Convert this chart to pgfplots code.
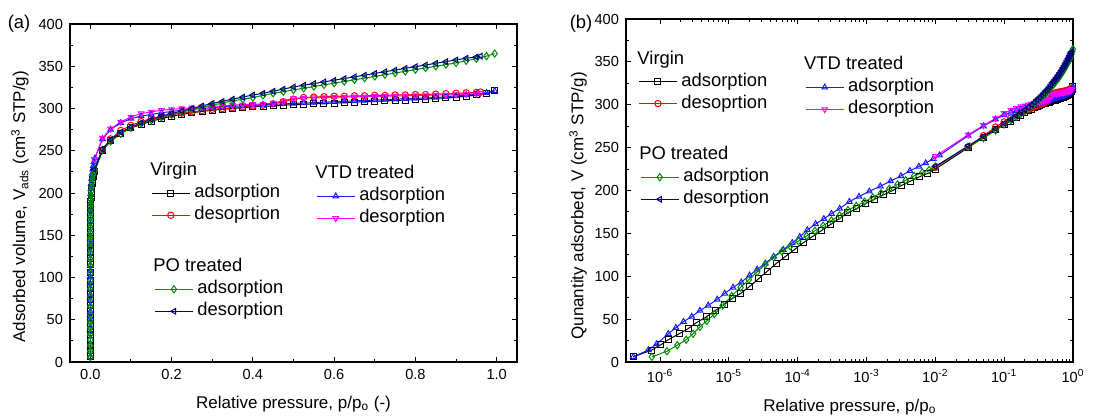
\documentclass[border=0pt]{standalone}
\usepackage{fontspec}
\setmainfont{Liberation Sans}
\usepackage{pgfplots}
\usepackage{pgfplotstable}
\pgfplotsset{compat=1.18}

\definecolor{pogreen}{RGB}{0,140,0}
\definecolor{ponavy}{RGB}{0,0,128}
\definecolor{vtdblue}{RGB}{25,25,255}
\definecolor{vtdmag}{RGB}{255,0,255}

\newcommand\tickfont{\fontsize{7.3}{8}\selectfont}
\newcommand\labfont{\fontsize{8.5}{10}\selectfont}
\newcommand\legfont{\fontsize{9.2}{11}\selectfont}

% Virgin, adsorption
\pgfplotstableread{
p V
4.07e-7 6
7.59e-7 14
1.023e-6 20
1.318e-6 26
1.905e-6 33
2.570e-6 39
3.390e-6 46
4.680e-6 52.5
6.310e-6 60
8.510e-6 67
1.122e-5 74
1.479e-5 80
1.995e-5 88
2.692e-5 97
3.631e-5 106
4.898e-5 115
6.607e-5 123
8.913e-5 131
1.202e-4 139
1.622e-4 146
2.188e-4 153
2.951e-4 160
3.981e-4 167
5.370e-4 174
7.244e-4 179
9.772e-4 185
1.318e-3 190
1.778e-3 195
2.399e-3 200
3.236e-3 206
4.365e-3 211
5.888e-3 216
7.762e-3 220
1.000e-2 225
0.030 250
0.050 262
0.075 271
0.100 277
0.125 281
0.150 285
0.175 288
0.200 291
0.225 293
0.250 295
0.275 296.5
0.300 298
0.325 299
0.350 300
0.375 301
0.400 302
0.425 302.5
0.450 303
0.475 304
0.500 304.5
0.525 305
0.550 305.5
0.575 306
0.600 306.5
0.625 307
0.650 307.5
0.675 308
0.700 308.5
0.725 309
0.750 309.5
0.775 310
0.800 310.5
0.825 311
0.850 312
0.875 312.5
0.900 313.5
0.925 314.5
0.950 316
0.975 318
0.995 321
}\virginads

% Virgin, desorption
\pgfplotstableread{
p V
0.960 319.5
0.950 319
0.925 318.5
0.900 318
0.875 317.5
0.850 317
0.825 316.5
0.800 316.5
0.775 316
0.750 316
0.725 315.5
0.700 315.5
0.675 315
0.650 315
0.625 314.5
0.600 314.5
0.575 314
0.550 313.5
0.525 313
0.500 311
0.475 308
0.450 305.5
0.425 304
0.400 303
0.375 302
0.350 301
0.325 300
0.300 299
0.275 297.5
0.250 296
0.225 294.5
0.200 293
0.175 290.5
0.150 288
0.125 284.5
0.100 280
0.075 274
0.050 264
0.030 251
0.010 227
}\virgindes

% VTD treated, adsorption
\pgfplotstableread{
p V
4.07e-7 6
6.76e-7 14
8.91e-7 21
1.318e-6 33
1.698e-6 40
2.188e-6 47
2.884e-6 53
3.802e-6 60
5.012e-6 66
6.761e-6 73
8.710e-6 80
1.148e-5 87
1.514e-5 93
1.995e-5 101
2.570e-5 108
3.388e-5 115
4.467e-5 123
6.166e-5 131
8.318e-5 139
1.072e-4 146
1.380e-4 154
1.820e-4 161
2.399e-4 167
3.090e-4 173
4.074e-4 179
5.623e-4 187
7.762e-4 193
1.096e-3 199
1.585e-3 205
2.239e-3 211
3.162e-3 217
4.266e-3 223
5.754e-3 228
7.244e-3 232
9.333e-3 237
1.148e-2 241
0.030 264
0.050 275
0.075 283
0.100 288
0.125 291
0.150 293
0.175 295
0.200 296.5
0.225 298
0.250 299
0.275 300
0.300 301
0.325 302
0.350 302.5
0.375 303
0.400 304
0.425 304.5
0.450 305
0.475 305.5
0.500 306
0.525 306.5
0.550 307
0.575 307.5
0.600 308
0.625 308.5
0.650 309
0.675 309.5
0.700 310
0.725 310.5
0.750 311
0.775 311.5
0.800 312
0.825 312.5
0.850 313
0.875 314
0.900 315
0.925 316
0.950 317
0.975 318.5
0.995 321
}\vtdads

% VTD treated, desorption
\pgfplotstableread{
p V
0.960 318
0.950 317.5
0.925 317
0.900 316.5
0.875 316
0.850 316
0.825 315.5
0.800 315.5
0.775 315
0.750 315
0.725 314.5
0.700 314.5
0.675 314
0.650 314
0.625 313.5
0.600 313.5
0.575 313
0.550 313
0.525 312.5
0.500 312
0.475 309
0.450 306.5
0.425 305.5
0.400 305
0.375 304.5
0.350 304
0.325 303
0.300 302.5
0.275 302
0.250 301
0.225 300
0.200 299
0.175 298
0.150 296
0.125 294
0.100 290
0.075 284
0.050 276
0.030 265
0.010 240
}\vtddes

% PO treated, adsorption
\pgfplotstableread{
p V
7.59e-7 6
1.259e-6 12.5
1.778e-6 19.5
2.399e-6 26
3.020e-6 33
3.802e-6 41
4.786e-6 48
6.166e-6 56
8.128e-6 66
1.096e-5 77
1.479e-5 87
1.950e-5 96
2.570e-5 105
3.388e-5 114
4.467e-5 122
5.888e-5 129
7.762e-5 135
1.023e-4 141
1.349e-4 147
1.778e-4 153
2.344e-4 159
3.090e-4 165
4.074e-4 171
5.370e-4 177
7.079e-4 182
9.333e-4 187
1.230e-3 192
1.622e-3 197
2.138e-3 202
2.818e-3 207
3.715e-3 212
4.898e-3 217
6.457e-3 221
8.128e-3 224
1.000e-2 228
0.030 251
0.050 261
0.075 270
0.100 277
0.125 282
0.150 286
0.175 289.5
0.200 292.5
0.225 295.5
0.250 298.5
0.275 301.5
0.300 304
0.325 306.5
0.350 309
0.375 311
0.400 313
0.425 315.5
0.450 318
0.475 320
0.500 322
0.525 324
0.550 326
0.575 328
0.600 330
0.625 332
0.650 334
0.675 336
0.700 338
0.725 340
0.750 342
0.775 344
0.800 346
0.825 348
0.850 350
0.875 352
0.900 354
0.925 356.5
0.950 359
0.975 362
0.995 365
}\poads

% PO treated, desorption
\pgfplotstableread{
p V
0.960 362
0.950 361
0.925 359.5
0.900 357.5
0.875 355.5
0.850 353.5
0.825 351.5
0.800 349.5
0.775 347.5
0.750 345.5
0.725 343.5
0.700 341.5
0.675 339.5
0.650 337.5
0.625 335.5
0.600 333.5
0.575 331.5
0.550 329.5
0.525 327.5
0.500 325.5
0.475 323
0.450 320.5
0.425 318
0.400 316
0.375 313.5
0.350 311
0.325 308.5
0.300 306
0.275 303
0.250 300
0.225 297
0.200 294
0.175 291
0.150 287
0.125 283
0.100 278
0.075 272
0.050 263
0.030 252
0.010 228
}\podes

\pgfplotsset{
  frame/.style={scale only axis, width=223.5pt,
    tick align=inside, major tick length=2.5pt, minor tick length=1.5pt,
    axis line style={line width=0.65pt}, every tick/.style={black, line width=0.5pt},
    tick label style={font=\tickfont}, label style={font=\labfont},
    ymin=0, ymax=400, ytick={0,50,...,400}, minor y tick num=1,
    /pgf/number format/assume math mode=true},
  ser/.style={line width=0.5pt, mark size=1.6pt},
  va/.style={ser, black, mark=square, mark size=1.5pt, mark options={solid, fill=white}},
  vd/.style={ser, red, mark=o, mark options={solid, fill=white}},
  ta/.style={ser, vtdblue, mark=triangle, mark options={solid, fill=white}},
  td/.style={ser, vtdmag, mark=triangle, mark options={solid, fill=white, rotate=180}},
  pa/.style={ser, pogreen, mark=diamond, mark size=1.8pt, mark options={solid, fill=white}},
  pd/.style={ser, ponavy, mark=triangle, mark options={solid, fill=white, rotate=90}},
  legax/.style={hide axis, scale only axis, width=223.5pt, xmin=0, xmax=1, ymin=0, ymax=1,
    legend cell align=left,
    legend image code/.code={\draw[mark repeat=2, mark phase=2, ##1]
      plot coordinates {(0pt,0pt) (9.5pt,0pt) (19pt,0pt)};},
    legend style={draw=none, fill=none, inner sep=0pt, font=\legfont,
      column sep=1pt, row sep=0pt,
      nodes={inner sep=1pt, text height=6.8pt, text depth=2.2pt}}},
}

\begin{document}
\begin{tikzpicture}
\path[use as bounding box] (0,0) rectangle (551pt,-208.5pt);

% ---- (a) linear pressure scale
\begin{axis}[frame, name=a, at={(35pt,-181pt)}, anchor=south west, height=169pt,
    xmin=-0.05, xmax=1.05, xtick={0,0.2,0.4,0.6,0.8,1.0}, minor x tick num=1,
    xticklabel style={/pgf/number format/.cd, fixed, fixed zerofill, precision=1},
    xlabel={Relative pressure, p/p\textsubscript{o} (-)},
    xlabel style={at={(axis description cs:0.5,-0.139)}, anchor=base},
    ylabel={Adsorbed volume, V\textsubscript{ads} (cm\textsuperscript{3} STP/g)},
    ylabel style={at={(axis description cs:-0.112,0.459)}, anchor=center}]
\addplot[va] table {\virginads};
\addplot[vd] table {\virgindes};
\addplot[ta] table {\vtdads};
\addplot[td] table {\vtddes};
\addplot[pa] table {\poads};
\addplot[pd] table {\podes};
\end{axis}
\node[font=\legfont, anchor=center] at (9.5pt,-12pt) {(a)};

\begin{axis}[legax, at={(35pt,-181pt)}, anchor=south west, height=169pt,
    legend style={at={(0.181,0.598)}, anchor=north west}]
\addlegendimage{empty legend}\addlegendentry{\hspace{-22pt}Virgin}
\addlegendimage{va}\addlegendentry{adsorption}
\addlegendimage{vd}\addlegendentry{desoprtion}
\end{axis}
\begin{axis}[legax, at={(35pt,-181pt)}, anchor=south west, height=169pt,
    legend style={at={(0.550,0.589)}, anchor=north west}]
\addlegendimage{empty legend}\addlegendentry{\hspace{-22pt}VTD treated}
\addlegendimage{ta}\addlegendentry{adsorption}
\addlegendimage{td}\addlegendentry{desorption}
\end{axis}
\begin{axis}[legax, at={(35pt,-181pt)}, anchor=south west, height=169pt,
    legend style={at={(0.188,0.314)}, anchor=north west}]
\addlegendimage{empty legend}\addlegendentry{\hspace{-22pt}PO treated}
\addlegendimage{pa}\addlegendentry{adsorption}
\addlegendimage{pd}\addlegendentry{desorption}
\end{axis}

% ---- (b) logarithmic pressure scale
\begin{axis}[frame, name=b, at={(313pt,-181pt)}, anchor=south west, height=171.5pt,
    xmode=log, xmin=3.2e-7, xmax=1,
    xtick={1e-6,1e-5,1e-4,1e-3,1e-2,1e-1,1},
    xticklabels={10\textsuperscript{-6},10\textsuperscript{-5},10\textsuperscript{-4},
      10\textsuperscript{-3},10\textsuperscript{-2},10\textsuperscript{-1},10\textsuperscript{0}},
    xlabel={Relative pressure, p/p\textsubscript{o}},
    xlabel style={at={(axis description cs:0.501,-0.143)}, anchor=base},
    ylabel={Qunantity adsorbed, V (cm\textsuperscript{3} STP/g)},
    ylabel style={at={(axis description cs:-0.107,0.455)}, anchor=center}]
\addplot[va] table {\virginads};
\addplot[vd] table {\virgindes};
\addplot[ta] table {\vtdads};
\addplot[td] table {\vtddes};
\addplot[pa] table {\poads};
\addplot[pd] table {\podes};
\end{axis}
\node[font=\legfont, anchor=center] at (290.5pt,-12pt) {(b)};

\begin{axis}[legax, at={(313pt,-181pt)}, anchor=south west, height=171.5pt,
    legend style={at={(0.027,0.915)}, anchor=north west}]
\addlegendimage{empty legend}\addlegendentry{\hspace{-22pt}Virgin}
\addlegendimage{va}\addlegendentry{adsorption}
\addlegendimage{vd}\addlegendentry{desoprtion}
\end{axis}
\begin{axis}[legax, at={(313pt,-181pt)}, anchor=south west, height=171.5pt,
    legend style={at={(0.400,0.898)}, anchor=north west}]
\addlegendimage{empty legend}\addlegendentry{\hspace{-22pt}VTD treated}
\addlegendimage{ta}\addlegendentry{adsorption}
\addlegendimage{td}\addlegendentry{desorption}
\end{axis}
\begin{axis}[legax, at={(313pt,-181pt)}, anchor=south west, height=171.5pt,
    legend style={at={(0.031,0.636)}, anchor=north west}]
\addlegendimage{empty legend}\addlegendentry{\hspace{-22pt}PO treated}
\addlegendimage{pa}\addlegendentry{adsorption}
\addlegendimage{pd}\addlegendentry{desorption}
\end{axis}
\end{tikzpicture}
\end{document}
